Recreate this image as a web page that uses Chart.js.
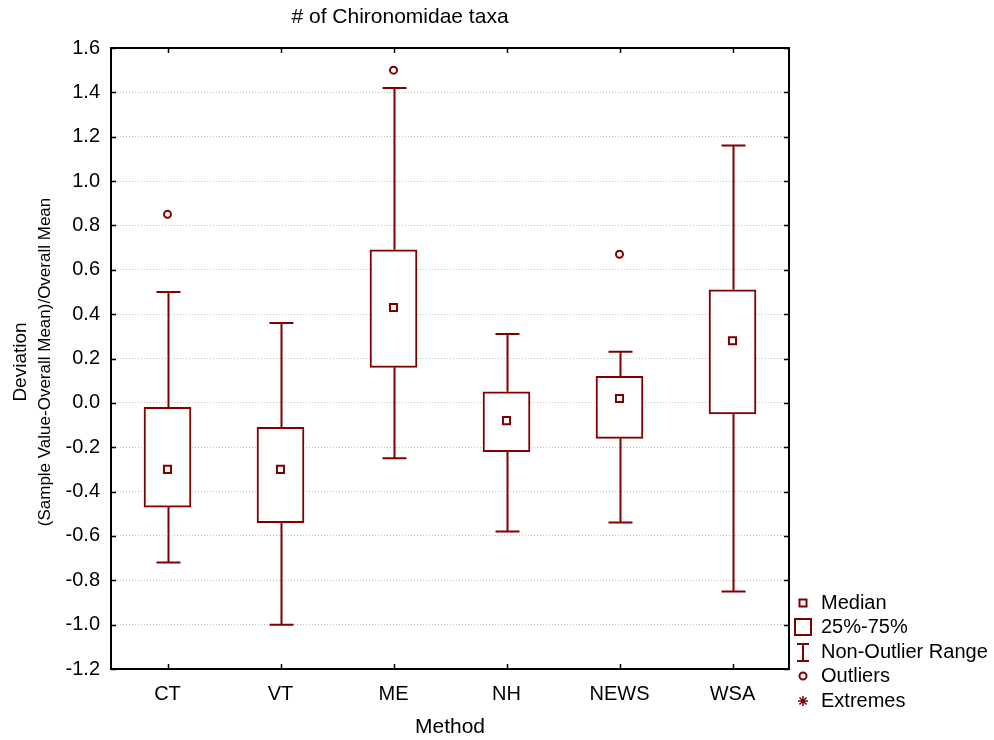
<!DOCTYPE html>
<html lang="en">
<head>
    <meta charset="UTF-8">
    <title># of Chironomidae taxa</title>
    <style>
        body {
            margin: 0;
            padding: 0;
            background-color: #ffffff;
        }

        .chart-box {
            position: relative;
            width: 994px;
            height: 740px;
        }
    </style>
    <script src="https://cdn.jsdelivr.net/npm/chart.js"></script>
</head>
<body>
    <div class="chart-box">
        <canvas id="boxChart"></canvas>
    </div>

    <script>
        // Box plot values per sampling method
        const methods = ['CT', 'VT', 'ME', 'NH', 'NEWS', 'WSA'];
        const whiskerLow = [-0.72, -1.00, -0.25, -0.58, -0.54, -0.85];
        const quartile1 = [-0.47, -0.54, 0.16, -0.22, -0.16, -0.05];
        const medians = [-0.30, -0.30, 0.43, -0.08, 0.02, 0.28];
        const quartile3 = [-0.02, -0.11, 0.69, 0.05, 0.12, 0.51];
        const whiskerHigh = [0.50, 0.36, 1.42, 0.31, 0.23, 1.16];
        const outliers = [0.85, null, 1.50, null, 0.67, null];
        const yTicks = [-1.2, -1.0, -0.8, -0.6, -0.4, -0.2, 0.0, 0.2, 0.4, 0.6, 0.8, 1.0, 1.2, 1.4, 1.6];
        const legendItems = ['Median', '25%-75%', 'Non-Outlier Range', 'Outliers', 'Extremes'];

        const RED = '#800000';
        const FONT = '"Liberation Sans", Arial, sans-serif';

        // whiskers, frame, inner ticks, titles and legend
        const boxExtras = {
            id: 'boxExtras',
            beforeDatasetsDraw(chart) {
                const ctx = chart.ctx;
                const x = chart.scales.x;
                const y = chart.scales.y;
                ctx.save();
                ctx.strokeStyle = RED;
                ctx.lineWidth = 2;
                methods.forEach(function (m, i) {
                    const cx = Math.round(x.getPixelForValue(i)) + 0.5;
                    const hi = y.getPixelForValue(whiskerHigh[i]);
                    const lo = y.getPixelForValue(whiskerLow[i]);
                    ctx.beginPath();
                    ctx.moveTo(cx, hi);
                    ctx.lineTo(cx, y.getPixelForValue(quartile3[i]));
                    ctx.moveTo(cx, y.getPixelForValue(quartile1[i]));
                    ctx.lineTo(cx, lo);
                    ctx.moveTo(cx - 12, hi);
                    ctx.lineTo(cx + 12, hi);
                    ctx.moveTo(cx - 12, lo);
                    ctx.lineTo(cx + 12, lo);
                    ctx.stroke();
                });
                ctx.restore();
            },
            afterDraw(chart) {
                const ctx = chart.ctx;
                const a = chart.chartArea;
                const x = chart.scales.x;
                const y = chart.scales.y;
                ctx.save();

                // plot frame
                ctx.strokeStyle = '#000';
                ctx.lineWidth = 2;
                ctx.strokeRect(a.left, a.top, a.right - a.left, a.bottom - a.top);

                // inward tick marks
                ctx.lineWidth = 1.5;
                ctx.beginPath();
                yTicks.forEach(function (v) {
                    const py = Math.round(y.getPixelForValue(v)) + 0.5;
                    ctx.moveTo(a.left, py);
                    ctx.lineTo(a.left + 5, py);
                    ctx.moveTo(a.right, py);
                    ctx.lineTo(a.right - 5, py);
                });
                methods.forEach(function (m, i) {
                    const px = Math.round(x.getPixelForValue(i)) + 0.5;
                    ctx.moveTo(px, a.bottom);
                    ctx.lineTo(px, a.bottom - 5);
                    ctx.moveTo(px, a.top);
                    ctx.lineTo(px, a.top + 5);
                });
                ctx.stroke();

                // chart title
                ctx.fillStyle = '#000';
                ctx.textAlign = 'center';
                ctx.textBaseline = 'middle';
                ctx.font = '21px ' + FONT;
                ctx.fillText('# of Chironomidae taxa', 400, 17);

                // x axis title
                ctx.font = '21px ' + FONT;
                ctx.fillText('Method', (a.left + a.right) / 2, 727);

                // y axis title, two lines
                ctx.save();
                ctx.translate(21, 362);
                ctx.rotate(-Math.PI / 2);
                ctx.font = '19px ' + FONT;
                ctx.fillText('Deviation', 0, 0);
                ctx.font = '17px ' + FONT;
                ctx.fillText('(Sample Value-Overall Mean)/Overall Mean', 0, 24);
                ctx.restore();

                // legend
                const lx = 803;
                const tx = 821;
                const rows = [603, 627, 652, 676, 701];
                ctx.textAlign = 'left';
                ctx.font = '20px ' + FONT;
                legendItems.forEach(function (label, i) {
                    ctx.fillStyle = '#000';
                    ctx.fillText(label, tx, rows[i]);
                });
                ctx.strokeStyle = RED;
                ctx.fillStyle = RED;
                ctx.lineWidth = 2;
                // median square
                ctx.strokeRect(lx - 3.5, rows[0] - 3.5, 7, 7);
                // quartile box
                ctx.strokeRect(lx - 8, rows[1] - 8, 16, 16);
                // non-outlier range
                ctx.beginPath();
                ctx.moveTo(lx - 6, rows[2] - 8);
                ctx.lineTo(lx + 6, rows[2] - 8);
                ctx.moveTo(lx, rows[2] - 8);
                ctx.lineTo(lx, rows[2] + 9);
                ctx.moveTo(lx - 6, rows[2] + 9);
                ctx.lineTo(lx + 6, rows[2] + 9);
                ctx.stroke();
                // outlier circle
                ctx.beginPath();
                ctx.arc(lx, rows[3], 3.5, 0, Math.PI * 2);
                ctx.stroke();
                // extremes asterisk
                ctx.lineWidth = 1.5;
                ctx.beginPath();
                for (let k = 0; k < 4; k++) {
                    const ang = k * Math.PI / 4;
                    ctx.moveTo(lx - 5 * Math.cos(ang), rows[4] - 5 * Math.sin(ang));
                    ctx.lineTo(lx + 5 * Math.cos(ang), rows[4] + 5 * Math.sin(ang));
                }
                ctx.stroke();

                ctx.restore();
            }
        };

        window.onload = function () {
            const ctx = document.getElementById('boxChart').getContext('2d');
            new Chart(ctx, {
                type: 'bar',
                data: {
                    labels: methods,
                    datasets: [
                        {
                            type: 'line',
                            label: 'Outliers',
                            data: outliers,
                            showLine: false,
                            pointStyle: 'circle',
                            pointRadius: 3.5,
                            pointBorderWidth: 2,
                            borderColor: RED,
                            backgroundColor: '#fff',
                            order: 0
                        },
                        {
                            type: 'line',
                            label: 'Median',
                            data: medians,
                            showLine: false,
                            pointStyle: 'rect',
                            pointRadius: 5,
                            pointBorderWidth: 2,
                            borderColor: RED,
                            backgroundColor: '#fff',
                            order: 1
                        },
                        {
                            label: '25%-75%',
                            data: methods.map(function (m, i) { return [quartile1[i], quartile3[i]]; }),
                            backgroundColor: '#fff',
                            borderColor: RED,
                            borderWidth: 2,
                            borderSkipped: false,
                            barThickness: 47,
                            order: 2
                        }
                    ]
                },
                plugins: [boxExtras],
                options: {
                    responsive: true,
                    maintainAspectRatio: false,
                    animation: false,
                    events: [],
                    layout: {
                        padding: { top: 48, right: 205, bottom: 0, left: 0 }
                    },
                    plugins: {
                        legend: { display: false },
                        tooltip: { enabled: false },
                        title: { display: false }
                    },
                    scales: {
                        x: {
                            grid: { display: false, drawTicks: false },
                            border: { display: false },
                            ticks: {
                                color: '#000',
                                padding: 13,
                                font: { family: FONT, size: 20 }
                            },
                            afterFit: function (s) { s.height = 71; }
                        },
                        y: {
                            min: -1.2,
                            max: 1.6,
                            grid: {
                                color: '#c4c4c4',
                                lineWidth: 1,
                                drawTicks: false
                            },
                            border: { display: false, dash: [1, 2] },
                            afterBuildTicks: function (s) {
                                s.ticks = yTicks.map(function (v) { return { value: v }; });
                            },
                            ticks: {
                                color: '#000',
                                padding: 11,
                                font: { family: FONT, size: 20 },
                                callback: function (v) { return Number(v).toFixed(1); }
                            },
                            afterFit: function (s) { s.width = 111; }
                        }
                    }
                }
            });
        };
    </script>
</body>
</html>
